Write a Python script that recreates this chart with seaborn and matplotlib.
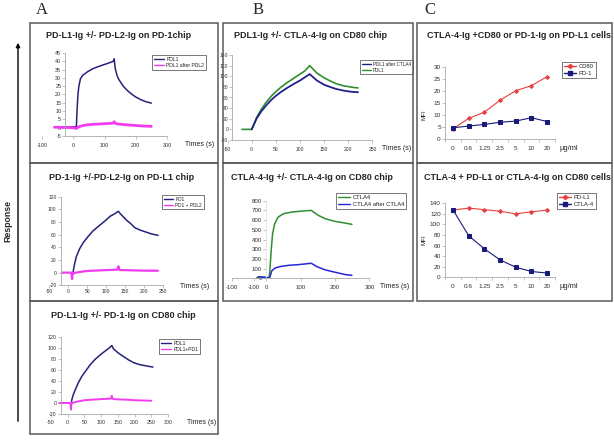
import numpy as np
import pandas as pd
import matplotlib
matplotlib.use("Agg")
import matplotlib.pyplot as plt
import seaborn as sns
from matplotlib.patches import Rectangle, FancyArrowPatch
from matplotlib.lines import Line2D

# ---------------- data ----------------
# A1: PD-L1-Ig +/- PD-L2-Ig on PD-1 chip
a1_pdl1_t = [-60, -30, 0, 10, 12, 15, 18, 23, 30, 45, 60, 77, 95, 108, 120, 128, 131, 134, 140, 146, 160, 172, 185, 199, 215, 230, 250]
a1_pdl1_v = [0.5, 0.5, 0.5, 0.5, 10, 20, 25, 29.5, 31.5, 33.6, 35.3, 36.6, 37.8, 38.6, 39.4, 40, 41.5, 36, 31.5, 29, 25, 22.6, 20.5, 18.6, 17, 15.8, 14.8]
a1_after_t = [-60, -40, -20, 0, 10, 15, 25, 40, 60, 80, 100, 120, 128, 131, 134, 140, 160, 180, 200, 225, 250]
a1_after_v = [0.3, 0.2, 0.1, 0, -0.5, 0.3, 1.0, 1.6, 2.0, 2.2, 2.4, 2.6, 2.8, 3.6, 2.6, 2.3, 1.9, 1.6, 1.3, 1.0, 0.8]

# A2: PD-1-Ig +/- PD-L2-Ig on PD-L1 chip
a2_pd1_t = [12, 14, 17, 21, 30, 40, 52, 65, 83, 97, 110, 122, 132, 137, 145, 153, 165, 175, 190, 205, 220, 236]
a2_pd1_v = [-3, 6, 15, 25, 38, 48, 57, 66, 75, 82, 89, 93, 97, 93, 88, 83, 77, 71, 67, 64, 61, 59]
a2_mix_t = [-17, 0, 8, 10, 11, 13, 20, 40, 60, 80, 100, 120, 130, 132, 134, 137, 150, 175, 200, 236]
a2_mix_v = [0, 0, 0, -10, 0, -1, 0, 2, 3, 3.5, 4, 4.5, 5, 10, 5, 4, 4, 3.5, 3.2, 3]

# A3: PD-L1-Ig +/- PD-1-Ig on CD80 chip
a3_pdl1_t = [10, 12, 16, 22, 32, 42, 55, 67, 82, 97, 112, 125, 132, 137, 150, 167, 182, 197, 212, 227, 245, 255]
a3_pdl1_v = [-2, 5, 14, 23, 37, 48, 59, 69, 79, 87, 94, 100, 104, 98, 91, 84, 78, 73, 70, 68, 66, 65]
a3_mix_t = [-25, 0, 8, 10, 11, 14, 25, 50, 75, 100, 120, 130, 132, 134, 137, 150, 175, 200, 225, 250]
a3_mix_v = [0, 0, 0, -12, 1, 0, 2, 5, 6, 7, 7.5, 8, 13, 8, 7, 6.5, 6, 5, 4.5, 4]

# B1: PDL1-Ig +/- CTLA-4-Ig on CD80 chip
b1_pdl1_t = [-20, -10, 0, 5, 10, 20, 30, 40, 50, 60, 75, 90, 100, 110, 120, 135, 150, 165, 175, 190, 200, 210, 220]
b1_pdl1_v = [0, 0, 0, 10, 22, 38, 51, 62, 71, 79, 89, 98, 104, 110, 120, 106, 97, 90, 86, 82, 80.5, 79, 78]
b1_after_t = [0, 5, 10, 20, 30, 40, 50, 60, 75, 90, 100, 110, 120, 135, 150, 165, 175, 190, 200, 210, 220]
b1_after_v = [0, 10, 20, 34, 45, 55, 63, 70, 79, 87, 92, 98, 104, 92, 84, 79, 76, 73, 71.5, 70.5, 70]

# B2: CTLA-4-Ig +/- CTLA-4-Ig on CD80 chip
b2_ctla4_t = [-21, -5, 8, 10.5, 15, 19, 25, 35, 51, 75, 104, 131, 152, 172, 201, 230, 249]
b2_ctla4_v = [12, 10, 6, 45, 286, 458, 562, 631, 666, 683, 693, 700, 648, 614, 586, 569, 556]
b2_after_t = [-21, 0, 10.5, 17, 27, 41, 66, 95, 131, 147, 172, 201, 230, 249]
b2_after_v = [17, 8, 3, 79, 107, 121, 134, 141, 155, 121, 86, 62, 38, 31]

# C: flow cytometry (MFI) vs concentration
conc_labels = ["0", "0.6", "1.25", "2.5", "5", "10", "20"]
c1_cd80 = [4.2, 8.6, 11.2, 16.2, 20.2, 22.3, 26.1]
c1_pd1 = [4.7, 5.4, 6.1, 7.0, 7.5, 8.9, 7.3]
c2_pdl1 = [127, 131, 128, 125, 120, 124, 127]
c2_ctla4 = [128, 79, 54, 33, 19, 11, 8]

# ---------------- figure ----------------
W, H = 614, 443
sns.set_theme(style="white")
plt.rcParams["font.family"] = ["Liberation Sans", "DejaVu Sans"]
plt.rcParams["axes.unicode_minus"] = False

fig = plt.figure(figsize=(W / 100, H / 100), dpi=100)
fig.patch.set_facecolor("white")

NAVY = "#22227a"
PINK = "#f03cf0"
GREEN = "#2f8f2f"
BLUE = "#2626d8"
RED = "#e84040"
DNAVY = "#1a1a78"


def ax_px(l, t, r, b):
    return fig.add_axes([l / W, 1 - b / H, (r - l) / W, (b - t) / H])


def style(ax, fs=4.0, xpad=2.5):
    for s in ["top", "right"]:
        ax.spines[s].set_visible(False)
    for s in ["left", "bottom"]:
        ax.spines[s].set_color("#a8a8a8")
        ax.spines[s].set_linewidth(0.6)
    ax.tick_params(axis="both", bottom=True, left=True, labelsize=fs, length=2,
                   width=0.5, color="#a8a8a8", labelcolor="#303030")
    ax.tick_params(axis="x", pad=xpad)
    ax.tick_params(axis="y", pad=1)
    ax.set_xlabel("")
    ax.set_ylabel("")
    ax.patch.set_alpha(0)
    if ax.get_legend() is not None:
        ax.get_legend().remove()


def line(ax, t, v, color, lw=1.0, label=None):
    df = pd.DataFrame({"t": t, "v": v})
    sns.lineplot(data=df, x="t", y="v", color=color, linewidth=lw, sort=False,
                 estimator=None, ax=ax, label=label, legend=False)


def legend(ax, entries, l, t, fs=4.0, marker=False):
    handles = []
    for lab, col, mk in entries:
        handles.append(Line2D([0], [0], color=col, lw=1.0, marker=mk if marker else None,
                              markersize=2.2))
    lg = ax.legend(handles, [e[0] for e in entries], loc="upper left",
                   bbox_to_anchor=(l / W, 1 - t / H), bbox_transform=fig.transFigure,
                   fontsize=fs, frameon=True, fancybox=False, edgecolor="#444444",
                   framealpha=1, handlelength=2.0, borderpad=0.35, labelspacing=0.25,
                   handletextpad=0.5, borderaxespad=0)
    lg.get_frame().set_linewidth(0.5)
    for txt in lg.get_texts():
        txt.set_color("#202020")


def ftext(x, y, s, **kw):
    fig.text(x / W, 1 - y / H, s, **kw)


TITLE_FS = 6.5

# ---- A1
ax = ax_px(42, 53, 167, 136)
line(ax, a1_pdl1_t, a1_pdl1_v, NAVY, 1.1)
line(ax, a1_after_t, a1_after_v, PINK, 2.0)
ax.set_xlim(-100, 300); ax.set_ylim(-5, 45)
ax.set_xticks([-100, 0, 100, 200, 300]); ax.set_yticks(np.arange(-5, 46, 5))
style(ax, 3.9, 3.0)
ax.spines["left"].set_position(("data", -25))
ax.spines["bottom"].set_bounds(-25, 300)
legend(ax, [("PDL1", NAVY, None), ("PDL1 after PDL2", PINK, None)], 152, 55, 3.6)
ftext(119, 35, "PD-L1-Ig +/- PD-L2-Ig on PD-1chip", ha="center", va="center", fontsize=TITLE_FS, weight="bold")
ftext(185, 145, "Times (s)", ha="left", va="center", fontsize=5.0, color="#222222")

# ---- A2
ax = ax_px(49.3, 196.7, 163.3, 285.3)
line(ax, a2_pd1_t, a2_pd1_v, NAVY, 1.1)
line(ax, a2_mix_t, a2_mix_v, PINK, 1.6)
ax.set_xlim(-50, 250); ax.set_ylim(-20, 120)
ax.set_xticks(np.arange(-50, 251, 50)); ax.set_yticks(np.arange(-20, 121, 20))
style(ax, 3.6, 0.5)
ax.spines["left"].set_position(("data", -20))
ax.spines["bottom"].set_bounds(-20, 250)
legend(ax, [("PD1", NAVY, None), ("PD1 + PDL2", PINK, None)], 162, 195, 3.4)
ftext(122, 178, "PD-1-Ig +/-PD-L2-Ig on PD-L1 chip", ha="center", va="center", fontsize=TITLE_FS, weight="bold")
ftext(180, 287, "Times (s)", ha="left", va="center", fontsize=5.0, color="#222222")

# ---- A3
ax = ax_px(51, 336.7, 168, 414)
line(ax, a3_pdl1_t, a3_pdl1_v, NAVY, 1.1)
line(ax, a3_mix_t, a3_mix_v, PINK, 1.4)
ax.set_xlim(-50, 300); ax.set_ylim(-20, 120)
ax.set_xticks(np.arange(-50, 301, 50)); ax.set_yticks(np.arange(-20, 121, 20))
style(ax, 3.8, 2.5)
ax.spines["left"].set_position(("data", -20))
ax.spines["bottom"].set_bounds(-20, 300)
legend(ax, [("PDL1", NAVY, None), ("PDL1+PD1", PINK, None)], 159, 339, 3.6)
ftext(123, 315, "PD-L1-Ig +/- PD-1-Ig on CD80 chip", ha="center", va="center", fontsize=TITLE_FS, weight="bold")
ftext(187, 423, "Times (s)", ha="left", va="center", fontsize=5.0, color="#222222")

# ---- B1
ax = ax_px(227.5, 55, 372.5, 140)
line(ax, b1_pdl1_t, b1_pdl1_v, GREEN, 1.2)
line(ax, b1_after_t, b1_after_v, "#20208c", 1.3)
ax.set_xlim(-50, 250); ax.set_ylim(-20, 140)
ax.set_xticks(np.arange(-50, 251, 50)); ax.set_yticks(np.arange(-20, 141, 20))
style(ax, 3.6, 3.0)
ax.spines["left"].set_position(("data", -40))
ax.spines["bottom"].set_bounds(-40, 250)
legend(ax, [("PDL1 after CTLA4", "#20208c", None), ("PDL1", GREEN, None)], 360, 60, 3.3)
ftext(310, 35, "PDL1-Ig +/- CTLA-4-Ig on CD80 chip", ha="center", va="center", fontsize=TITLE_FS, weight="bold")
ftext(382, 149, "Times (s)", ha="left", va="center", fontsize=5.0, color="#222222")

# ---- B2
ax = ax_px(231.5, 200.7, 369.5, 278.3)
line(ax, b2_ctla4_t, b2_ctla4_v, GREEN, 1.1)
line(ax, b2_after_t, b2_after_v, BLUE, 1.1)
ax.plot([-22], [5], marker="o", ms=2.5, color="#555555", zorder=1)
ax.set_xlim(-100, 300); ax.set_ylim(0, 800)
ax.set_xticks([-100, -36, 0, 100, 200, 300])
ax.set_xticklabels(["-100", "-100", "0", "100", "200", "300"])
ax.set_yticks(np.arange(0, 801, 100))
style(ax, 4.4, 3.0)
ax.spines["left"].set_position(("data", 0))
ax.spines["left"].set_color("#e0e0e0")
legend(ax, [("CTLA4", GREEN, None), ("CTLA4 after CTLA4", BLUE, None)], 336, 193, 4.2)
ftext(312, 178, "CTLA-4-Ig +/- CTLA-4-Ig on CD80 chip", ha="center", va="center", fontsize=TITLE_FS, weight="bold")
ftext(380, 287, "Times (s)", ha="left", va="center", fontsize=5.0, color="#222222")

# ---- C1
pos = np.arange(len(conc_labels))
ax = ax_px(445, 67.3, 555, 139)
dfc = pd.DataFrame({"x": pos, "cd80": c1_cd80, "pd1": c1_pd1})
sns.lineplot(data=dfc, x="x", y="cd80", color=RED, lw=0.8, marker="D", ms=2.0, mec=RED, ax=ax)
sns.lineplot(data=dfc, x="x", y="pd1", color=DNAVY, lw=0.8, marker="s", ms=2.4, mec=DNAVY, ax=ax)
ax.set_xlim(-0.5, 6.5); ax.set_ylim(0, 30)
ax.set_xticks(pos); ax.set_xticklabels(conc_labels)
ax.set_xticks(np.arange(-0.5, 6.6, 1), minor=True)
ax.set_yticks(np.arange(0, 31, 5))
style(ax, 4.6, 3.0)
ax.tick_params(axis="x", which="major", length=0, pad=5)
ax.tick_params(axis="x", which="minor", bottom=True, length=2, width=0.5, color="#a8a8a8")
legend(ax, [("CD80", RED, "D"), ("PD-1", DNAVY, "s")], 562, 62, 4.2, marker=True)
ftext(519, 35, "CTLA-4-Ig +CD80 or PD-1-Ig on PD-L1 cells", ha="center", va="center", fontsize=TITLE_FS, weight="bold")
ftext(560, 148, "\u03bcg/ml", ha="left", va="center", fontsize=5.4, color="#222222")
ftext(424, 115, "MFI", ha="center", va="center", rotation=90, fontsize=4.4, color="#222222")

# ---- C2
ax = ax_px(445, 203.3, 555, 277.3)
dfc2 = pd.DataFrame({"x": pos, "pdl1": c2_pdl1, "ctla4": c2_ctla4})
sns.lineplot(data=dfc2, x="x", y="pdl1", color=RED, lw=0.8, marker="D", ms=2.0, mec=RED, ax=ax)
sns.lineplot(data=dfc2, x="x", y="ctla4", color=DNAVY, lw=0.8, marker="s", ms=2.4, mec=DNAVY, ax=ax)
ax.set_xlim(-0.5, 6.5); ax.set_ylim(0, 140)
ax.set_xticks(pos); ax.set_xticklabels(conc_labels)
ax.set_xticks(np.arange(-0.5, 6.6, 1), minor=True)
ax.set_yticks(np.arange(0, 141, 20))
style(ax, 4.6, 3.0)
ax.tick_params(axis="x", which="major", length=0, pad=5)
ax.tick_params(axis="x", which="minor", bottom=True, length=2, width=0.5, color="#a8a8a8")
legend(ax, [("PD-L1", RED, "D"), ("CTLA-4", DNAVY, "s")], 557, 193, 4.2, marker=True)
ftext(517, 178, "CTLA-4 + PD-L1 or CTLA-4-Ig on CD80 cells", ha="center", va="center", fontsize=TITLE_FS, weight="bold")
ftext(559, 287, "\u03bcg/ml", ha="left", va="center", fontsize=5.4, color="#222222")
ftext(424, 240, "MFI", ha="center", va="center", rotation=90, fontsize=4.4, color="#222222")

# ---- frames
def box(l, t, r, b):
    fig.add_artist(Rectangle((l / W, 1 - b / H), (r - l) / W, (b - t) / H,
                             transform=fig.transFigure, fill=False,
                             edgecolor="#5a5a5a", linewidth=1.1))

box(30, 22.5, 218, 162.5)
box(30, 162.5, 218, 301)
box(30, 301, 218, 434)
box(223, 22.5, 413, 162.5)
box(223, 162.5, 413, 301)
box(417, 22.5, 612, 162.5)
box(417, 162.5, 612, 301)

# ---- panel letters and Response axis
ftext(42, 10, "A", ha="center", va="center", fontsize=12, family="Liberation Serif")
ftext(258, 10, "B", ha="center", va="center", fontsize=12, family="Liberation Serif")
ftext(430, 10, "C", ha="center", va="center", fontsize=12, family="Liberation Serif")
fig.add_artist(FancyArrowPatch((18 / W, 1 - 424 / H), (18 / W, 1 - 40 / H),
                               transform=fig.transFigure, arrowstyle="-|>",
                               mutation_scale=6, lw=1.0, color="black"))
ftext(8, 221, "Response", ha="center", va="center", rotation=90, fontsize=6.3, weight="bold")

fig.savefig("out.png", dpi=100, facecolor="white")
